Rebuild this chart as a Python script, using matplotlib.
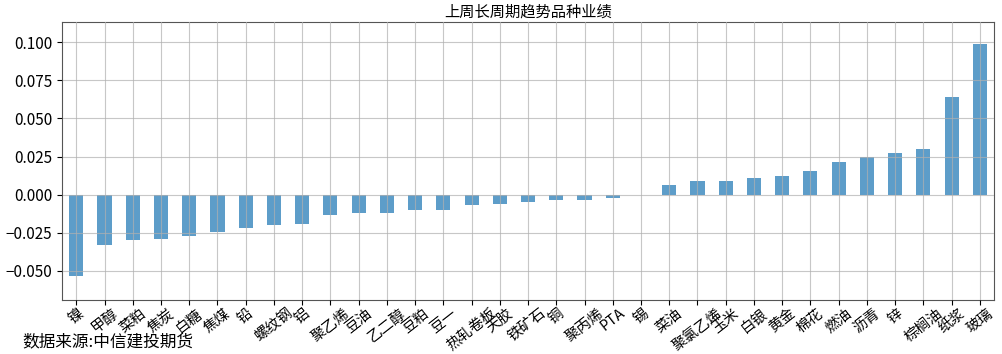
import matplotlib
matplotlib.use("Agg")
import matplotlib.pyplot as plt

plt.rcParams['font.family'] = ['Noto Sans CJK SC', 'DejaVu Sans']
plt.rcParams['axes.unicode_minus'] = True

# 品种 and last-week returns, sorted ascending
names = ['镍', '甲醇', '菜粕', '焦炭', '白糖', '焦煤', '铅', '螺纹钢', '铝', '聚乙烯',
         '豆油', '乙二醇', '豆粕', '豆一', '热轧卷板', '天胶', '铁矿石', '铜', '聚丙烯', 'PTA',
         '锡', '菜油', '聚氯乙烯', '玉米', '白银', '黄金', '棉花', '燃油', '沥青', '锌',
         '棕榈油', '纸浆', '玻璃']
returns = [-0.0536, -0.0328, -0.0295, -0.0291, -0.0269, -0.0245, -0.0217, -0.0197, -0.0192, -0.0136,
           -0.0119, -0.0119, -0.0103, -0.0103, -0.0068, -0.0062, -0.0049, -0.0035, -0.0035, -0.0022,
           0.0, 0.0061, 0.0087, 0.0092, 0.0112, 0.0123, 0.0155, 0.0217, 0.0249, 0.0273,
           0.0302, 0.0643, 0.0986]
yticks = [-0.050, -0.025, 0.000, 0.025, 0.050, 0.075, 0.100]

fig = plt.figure(figsize=(10.03, 3.54), dpi=100)
ax = fig.add_axes([0.062, 0.153, 0.929, 0.786])

x = list(range(len(names)))
ax.bar(x, returns, width=0.5, color='#1f77b4', alpha=0.72, zorder=1)
ax.grid(True, color='#b0b0b0', linewidth=0.8, alpha=0.7, zorder=3)
ax.set_axisbelow(False)

ax.set_xlim(-0.5, len(names) - 0.5)
ax.set_ylim(-0.069, 0.1135)
ax.set_yticks(yticks)
ax.set_yticklabels([f"{v:.3f}".replace('-', '\u2212') for v in yticks], fontsize=11)
ax.set_xticks(x)
ax.set_xticklabels(names, rotation=38, fontsize=10.5)
ax.tick_params(axis='x', pad=1)
ax.set_title('上周长周期趋势品种业绩', fontsize=11, pad=4)

for s in ax.spines.values():
    s.set_color('#555555')

fig.text(0.022, 0.01, '数据来源:中信建投期货', fontsize=12, va='bottom')

fig.savefig('out.png', dpi=100)
